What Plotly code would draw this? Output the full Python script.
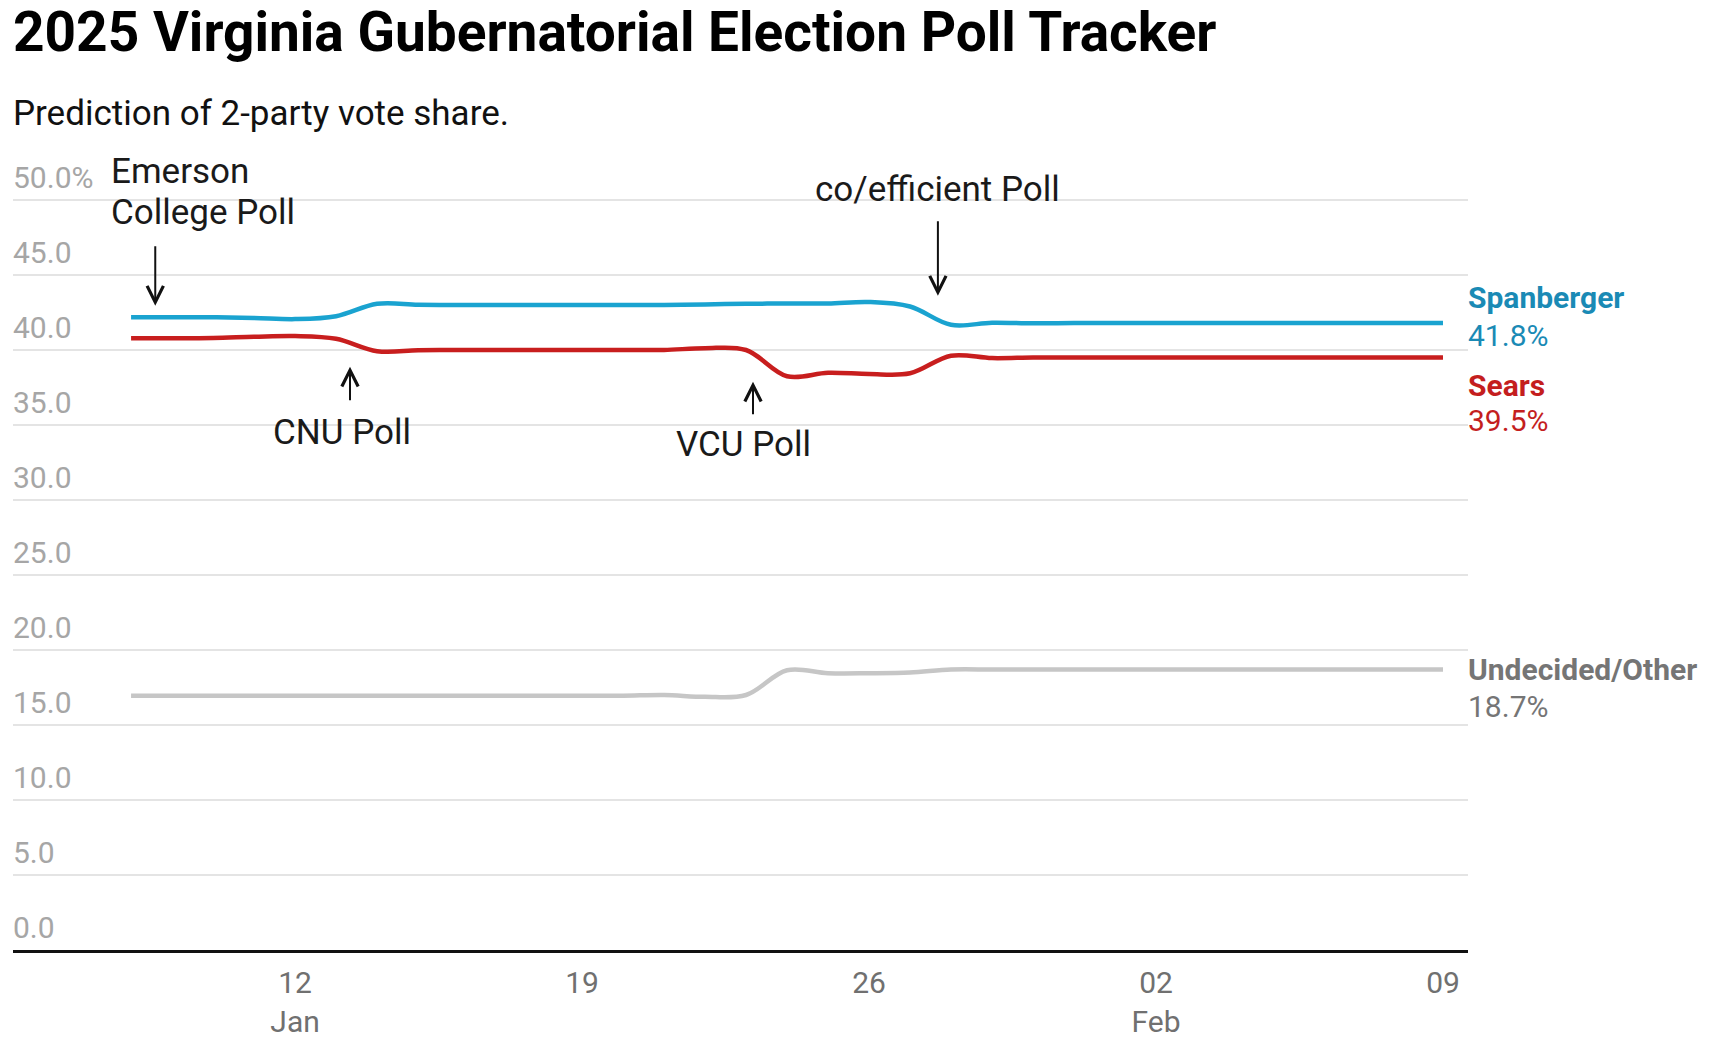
import pandas as pd
import plotly.graph_objects as go

# ---------------- data ----------------
dates = pd.date_range("2025-01-08", "2025-02-09", freq="D")

spanberger = [42.18, 42.18, 42.18, 42.14, 42.06, 42.25, 43.08, 43.02, 43.0, 43.0,
              43.0, 43.0, 43.0, 43.0, 43.04, 43.08, 43.1, 43.1, 43.2, 42.9,
              41.68, 41.82, 41.78, 41.8, 41.8, 41.8, 41.8, 41.8, 41.8, 41.8,
              41.8, 41.8, 41.8]
sears = [40.78, 40.78, 40.8, 40.88, 40.93, 40.75, 39.92, 39.98, 40.0, 40.0,
         40.0, 40.0, 40.0, 40.0, 40.12, 40.0, 38.25, 38.48, 38.4, 38.45,
         39.62, 39.46, 39.5, 39.5, 39.5, 39.5, 39.5, 39.5, 39.5, 39.5,
         39.5, 39.5, 39.5]
undecided = [16.95, 16.95, 16.95, 16.95, 16.95, 16.95, 16.95, 16.95, 16.95, 16.95,
             16.95, 16.95, 16.95, 17.0, 16.88, 17.0, 18.65, 18.45, 18.45, 18.5,
             18.7, 18.7, 18.7, 18.7, 18.7, 18.7, 18.7, 18.7, 18.7, 18.7,
             18.7, 18.7, 18.7]

series_names = ["Spanberger", "Sears", "Undecided/Other"]
line_colors = ["#1aa3d0", "#c81e1e", "#c6c6c6"]
label_colors = ["#1a8ab5", "#c41e1e", "#757575"]

y_tickvals = [0, 5, 10, 15, 20, 25, 30, 35, 40, 45, 50]
y_ticktext = ["0.0", "5.0", "10.0", "15.0", "20.0", "25.0", "30.0", "35.0", "40.0", "45.0", "50.0%"]
x_tickvals = ["2025-01-12", "2025-01-19", "2025-01-26", "2025-02-02", "2025-02-09"]
x_ticktext = ["12<br>Jan", "19", "26", "02<br>Feb", "09"]

poll_labels = ["Emerson<br>College Poll", "CNU Poll", "VCU Poll", "co/efficient Poll"]

FONT = "Roboto"
Y_TOP = 53.0   # headroom so the top tick label (drawn inside, above its gridline) is kept

fig = go.Figure()
for name, vals, col in zip(series_names, [spanberger, sears, undecided], line_colors):
    fig.add_trace(go.Scatter(x=dates, y=vals, mode="lines", name=name,
                             line=dict(color=col, width=4.5, shape="spline", smoothing=1.0),
                             hoverinfo="skip"))

x0 = pd.Timestamp("2025-01-12") - pd.Timedelta(days=6.88)
x1 = pd.Timestamp("2025-02-09") + pd.Timedelta(days=0.61)

fig.update_layout(
    width=1731, height=1058,
    margin=dict(l=13, r=263, t=950 - Y_TOP * 15, b=108),
    plot_bgcolor="white", paper_bgcolor="white",
    showlegend=False,
    font=dict(family=FONT, color="#222"),
    xaxis=dict(range=[x0, x1], showgrid=False, zeroline=False,
               showline=True, linecolor="#111", linewidth=3,
               tickvals=x_tickvals, ticktext=x_ticktext, ticks="",
               ticklabelstandoff=4,
               tickfont=dict(family=FONT, size=30, color="#707070")),
    yaxis=dict(range=[0, Y_TOP], tickvals=y_tickvals, ticktext=y_ticktext,
               showgrid=True, gridcolor="#e4e4e4", gridwidth=2, zeroline=False,
               ticklabelposition="inside", ticklabelshift=-23, ticklabelstandoff=-3,
               tickfont=dict(family=FONT, size=30, color="#a6a6a6"), ticks=""),
)

ann = []
# title / subtitle
ann.append(dict(text="<b>2025 Virginia Gubernatorial Election Poll Tracker</b>", xref="paper", yref="paper",
                x=0, y=(950 - 32) / (Y_TOP * 15), xanchor="left", yanchor="middle", showarrow=False,
                xshift=-2, font=dict(family=FONT, size=55, color="#000")))
ann.append(dict(text="Prediction of 2-party vote share.", xref="paper", yref="paper",
                x=0, y=(950 - 113) / (Y_TOP * 15), xanchor="left", yanchor="middle", showarrow=False,
                xshift=-2, font=dict(family=FONT, size=35, color="#111")))

# end labels
name_shift = [26, -27.5, 0]
val_shift = [-12.5, -63, -36.5]
for name, vals, col, ns, vs in zip(series_names, [spanberger, sears, undecided], label_colors, name_shift, val_shift):
    last = vals[-1]
    ann.append(dict(text=f"<b>{name}</b>", xref="paper", yref="y", x=1, y=last, xanchor="left",
                    yanchor="middle", yshift=ns, xshift=-2, showarrow=False,
                    font=dict(family=FONT, size=30, color=col)))
    ann.append(dict(text=f"{last:.1f}%", xref="paper", yref="y", x=1, y=last, xanchor="left",
                    yanchor="middle", yshift=vs, xshift=-2, showarrow=False,
                    font=dict(family=FONT, size=30, color=col)))

# poll annotations: text
def day(d):
    return pd.Timestamp("2025-01-12") + pd.Timedelta(days=d)

em_lines = poll_labels[0].split("<br>")
for i, t in enumerate(em_lines):
    ann.append(dict(text=t, x=day(-4.49), y=48, yshift=(950 - 171 - i * 41) - 48 * 15, xanchor="left",
                    yanchor="middle", align="left", xshift=-2,
                    showarrow=False, font=dict(family=FONT, size=35, color="#1a1a1a")))
ann.append(dict(text=poll_labels[1], x=day(1.15), y=34.47, xanchor="center", yanchor="middle",
                showarrow=False, font=dict(family=FONT, size=35, color="#1a1a1a")))
ann.append(dict(text=poll_labels[2], x=day(10.95), y=33.67, xanchor="center", yanchor="middle",
                showarrow=False, font=dict(family=FONT, size=35, color="#1a1a1a")))
ann.append(dict(text=poll_labels[3], x=day(15.66), y=48, yshift=(50.73 - 48) * 15, xanchor="center",
                yanchor="middle", showarrow=False, font=dict(family=FONT, size=35, color="#1a1a1a")))

# arrows
for d, yv, ay in [(-3.41, 42.95, -61), (1.34, 38.89, 35), (11.17, 37.89, 34), (15.68, 43.62, -76)]:
    ann.append(dict(text="", x=day(d), y=yv, ax=0, ay=ay, showarrow=True, arrowhead=5,
                    arrowsize=1.6, arrowwidth=2, arrowcolor="#111", standoff=0, startstandoff=0))

fig.update_layout(annotations=ann)

fig.write_html("out.html", config={"displayModeBar": False},
               post_script="document.body.style.margin='0';document.body.style.overflow='hidden';")
